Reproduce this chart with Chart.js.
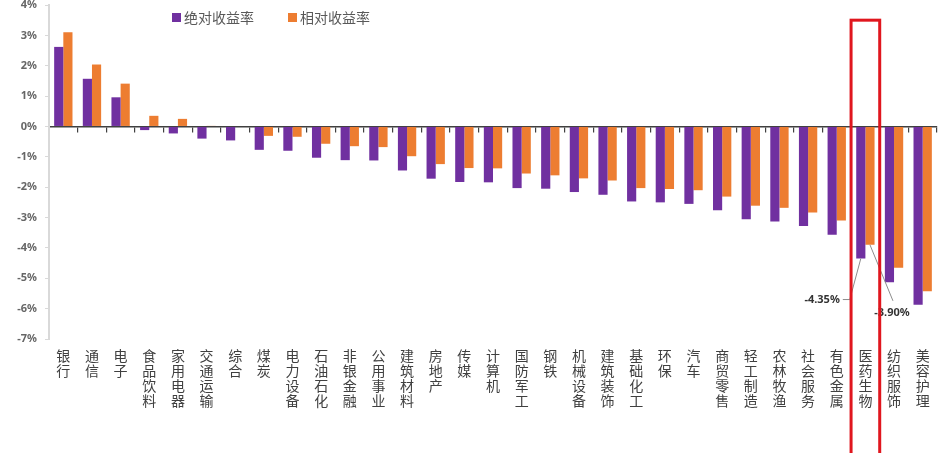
<!DOCTYPE html>
<html>
<head>
<meta charset="utf-8">
<script src="https://cdn.jsdelivr.net/npm/chart.js@4"></script>
<style>
  html, body { margin: 0; padding: 0; background: #fff; }
  #wrap { width: 945px; height: 453px; }
</style>
</head>
<body>
<div id="wrap"><canvas id="id-grafico"></canvas></div>
<script>
// 申万一级行业 收益率 (%)
const categories = ["银行","通信","电子","食品饮料","家用电器","交通运输","综合","煤炭","电力设备","石油石化",
  "非银金融","公用事业","建筑材料","房地产","传媒","计算机","国防军工","钢铁","机械设备","建筑装饰",
  "基础化工","环保","汽车","商贸零售","轻工制造","农林牧渔","社会服务","有色金属","医药生物","纺织服饰","美容护理"];
const absReturn = [2.62,1.57,0.96,-0.12,-0.23,-0.40,-0.46,-0.77,-0.80,-1.03,
  -1.11,-1.12,-1.45,-1.72,-1.83,-1.84,-2.03,-2.05,-2.16,-2.25,
  -2.47,-2.50,-2.55,-2.76,-3.06,-3.13,-3.28,-3.57,-4.35,-5.13,-5.87];
const relReturn = [3.10,2.04,1.41,0.35,0.25,0.02,0.00,-0.31,-0.34,-0.57,
  -0.65,-0.68,-0.98,-1.24,-1.37,-1.38,-1.55,-1.61,-1.71,-1.78,
  -2.03,-2.06,-2.10,-2.31,-2.61,-2.68,-2.83,-3.10,-3.90,-4.65,-5.43];
const seriesNames = ["绝对收益率", "相对收益率"];
const seriesColors = ["#7030A0", "#ED7D31"];
const highlightIndex = categories.indexOf("医药生物");

const cjk = '"Noto Sans CJK SC", "Noto Sans", sans-serif';
const stacked = categories.map(s => Array.from(s));

// legend + red box + labels for 医药生物
const extras = {
  id: 'extras',
  afterDraw(chart) {
    const ctx = chart.ctx;
    const area = chart.chartArea;
    const xs = chart.scales.x, ys = chart.scales.y;

    // legend
    ctx.save();
    ctx.font = '14px ' + cjk;
    ctx.textBaseline = 'middle';
    let lx = area.left + 123;
    chart.data.datasets.forEach((ds) => {
      ctx.fillStyle = ds.backgroundColor;
      ctx.fillRect(lx, 13, 9, 9);
      ctx.fillStyle = '#595959';
      ctx.fillText(ds.label, lx + 12, 18);
      lx += 12 + ctx.measureText(ds.label).width + 34;
    });
    ctx.restore();

    // value labels with leader lines
    const pBar = chart.getDatasetMeta(0).data[highlightIndex];
    const oBar = chart.getDatasetMeta(1).data[highlightIndex];
    ctx.save();
    ctx.strokeStyle = '#8c8c8c';
    ctx.lineWidth = 1;
    ctx.beginPath();
    ctx.moveTo(pBar.x, pBar.y);
    ctx.lineTo(pBar.x - 11, pBar.y + 41);
    ctx.lineTo(pBar.x - 18, pBar.y + 41);
    ctx.moveTo(oBar.x, oBar.y);
    ctx.lineTo(oBar.x + 23, oBar.y + 56);
    ctx.stroke();
    ctx.font = 'bold 11px "Noto Sans", sans-serif';
    ctx.fillStyle = '#333';
    ctx.textBaseline = 'middle';
    ctx.textAlign = 'right';
    ctx.fillText(absReturn[highlightIndex].toFixed(2) + '%', pBar.x - 21, pBar.y + 41);
    ctx.textAlign = 'center';
    ctx.fillText(relReturn[highlightIndex].toFixed(2) + '%', oBar.x + 22, oBar.y + 68);
    ctx.restore();

    // red box around 医药生物
    const half = (xs.getPixelForValue(1) - xs.getPixelForValue(0)) / 2;
    const cx = xs.getPixelForValue(highlightIndex);
    const top = ys.getPixelForValue(3.5);
    ctx.save();
    ctx.strokeStyle = '#E0161E';
    ctx.lineWidth = 3;
    ctx.strokeRect(cx - half, top, half * 2, chart.height + 10 - top);
    ctx.restore();
  }
};

new Chart('id-grafico', {
  type: 'bar',
  data: {
    labels: stacked,
    datasets: [
      { label: seriesNames[0], data: absReturn, backgroundColor: seriesColors[0] },
      { label: seriesNames[1], data: relReturn, backgroundColor: seriesColors[1] }
    ]
  },
  options: {
    responsive: true,
    maintainAspectRatio: false,
    animation: false,
    devicePixelRatio: 1,
    layout: { padding: { left: 0, right: 8, top: 5, bottom: 0 } },
    datasets: { bar: { barPercentage: 1, categoryPercentage: 0.64 } },
    plugins: { legend: { display: false }, tooltip: { enabled: false } },
    scales: {
      x: {
        position: 'bottom',
        grid: { display: false, drawTicks: false },
        border: { display: false },
        ticks: {
          autoSkip: false, maxRotation: 0, minRotation: 0, padding: 9,
          color: '#404040', font: { family: cjk, size: 14, lineHeight: '15px' }
        },
        afterFit: (s) => { s.height = 114; s.paddingLeft = 0; s.paddingRight = 0; }
      },
      x2: {
        type: 'category',
        labels: stacked,
        position: { y: 0 },
        offset: true,
        grid: { drawOnChartArea: false, drawTicks: true, tickLength: 5, color: '#404040', lineWidth: 1.2, offset: true },
        border: { display: true, color: '#404040', width: 1.5 },
        ticks: { display: false }
      },
      y: {
        min: -7, max: 4,
        ticks: {
          stepSize: 1, padding: 8, color: '#666',
          font: { family: '"Noto Sans", sans-serif', size: 11, weight: 'bold', lineHeight: 1 },
          callback: (v) => v + '%'
        },
        grid: { drawOnChartArea: false, drawTicks: true, tickLength: 4, color: '#d9d9d9' },
        border: { display: true, color: '#d9d9d9', width: 2 },
        afterFit: (s) => { s.width = 49; s.paddingTop = 0; s.paddingBottom = 0; }
      }
    }
  },
  plugins: [extras]
});
</script>
</body>
</html>
